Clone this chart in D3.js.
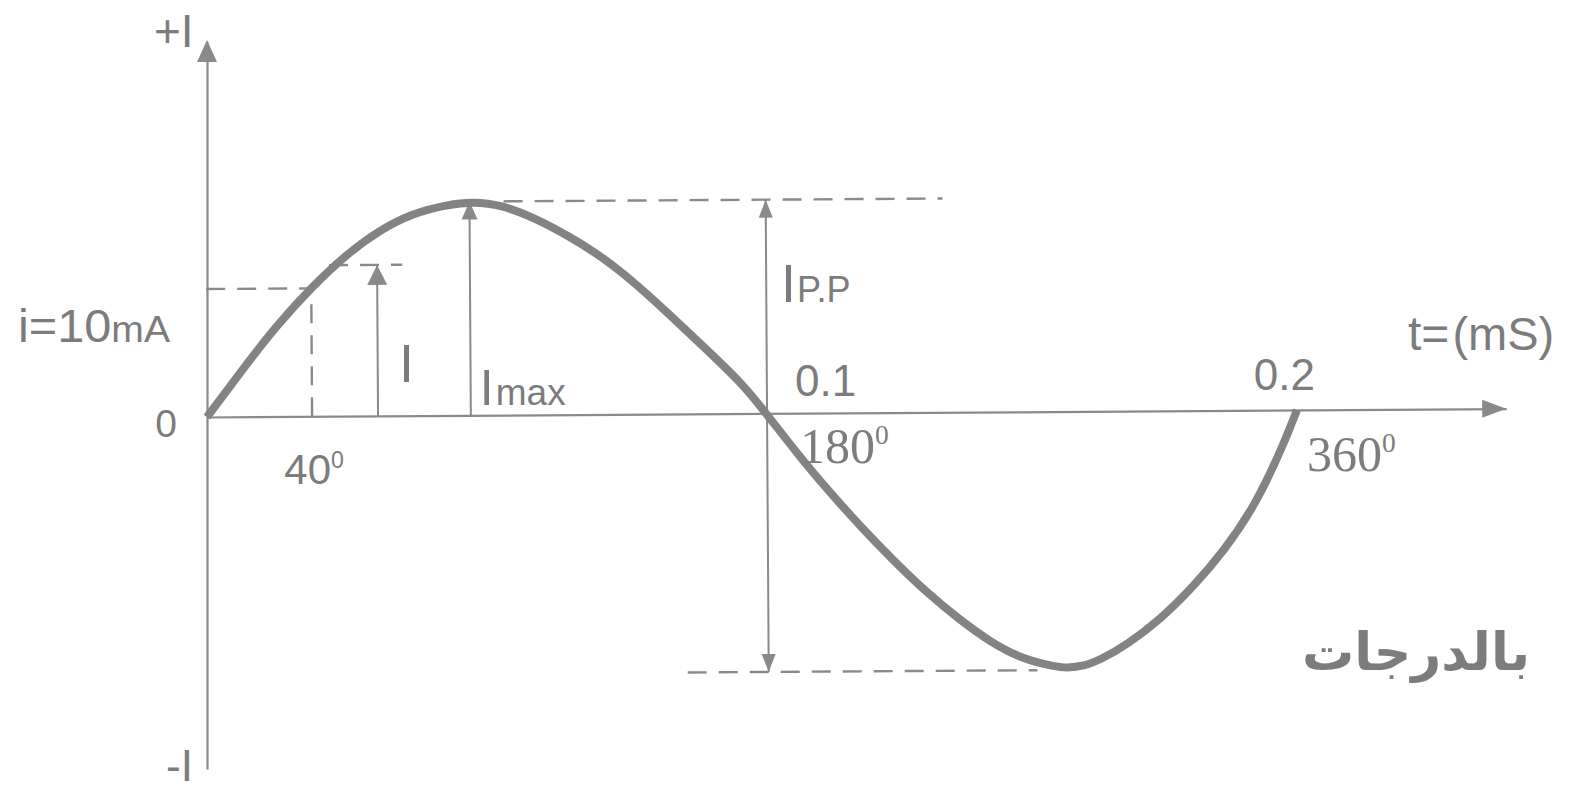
<!DOCTYPE html>
<html>
<head>
<meta charset="utf-8">
<script src="https://cdn.jsdelivr.net/npm/d3@7"></script>
<style>
  body { margin: 0; background: #fff; }
  svg text { font-family: "Liberation Sans", Arial, sans-serif; fill: #7c7c7c; }
</style>
</head>
<body>
<svg id="chart"></svg>
<script>
// sine wave: time in ms, current in mA
const timeMs = [0, 0.0068, 0.0127, 0.0188, 0.0250, 0.0310, 0.0370, 0.0430, 0.0479,
    0.0530, 0.0590, 0.0650, 0.0710, 0.0770, 0.0830, 0.0890, 0.0950, 0.1000,
    0.1060, 0.1120, 0.1180, 0.1240, 0.1300, 0.1360, 0.1420, 0.1480, 0.1535, 0.1565, 0.1595,
    0.1630, 0.1680, 0.1740, 0.1800, 0.1860, 0.1920, 0.1970, 0.2000];
const currentMA = [0, 3.9, 7.1, 10.0, 12.5, 14.4, 15.7, 16.4, 16.6,
    16.3, 15.3, 13.9, 12.2, 10.1, 7.7, 5.2, 2.6, 0,
    -3.2, -6.2, -9.0, -11.6, -14.0, -16.1, -17.9, -19.2, -19.85, -20.0, -19.85,
    -19.3, -18.1, -16.2, -13.8, -10.9, -7.2, -3.0, 0];

const timeTicks = [0.1, 0.2];
const timeLabels = ['0.1', '0.2'];
const degreeTicks = [0.0188, 0.1, 0.2];
const degreeLabels = ['40', '180', '360'];

// reference values marked on the drawing (mA / ms)
const iSample = 10, tSample = 0.0188;
const iInstant = 11.8, tInstant = 0.0306;
const iMax = 16.7, tMax = 0.0472;
const iMin = -20.2, tPP = 0.1002;
const yTop = 29.3, yBottom = -27.5, tEnd = 0.2394;

const W = 1583, H = 796;
const grey = '#8a8a8a';

const svg = d3.select('#chart').attr('width', W).attr('height', H);

const x = d3.scaleLinear().domain([0, 0.1, 0.2]).range([207, 766, 1297]);
const y = d3.scaleLinear().domain([yBottom, yTop]).range([769, 42]);

function arrowHead(g, px, py, dir, len, wid) {
    // dir: 'up' | 'down' | 'right'
    let pts;
    if (dir === 'up') pts = [[px, py], [px - wid / 2, py + len], [px + wid / 2, py + len]];
    else if (dir === 'down') pts = [[px, py], [px - wid / 2, py - len], [px + wid / 2, py - len]];
    else pts = [[px, py], [px - len, py - wid / 2], [px - len, py + wid / 2]];
    g.append('path')
        .attr('d', d3.line()(pts) + 'Z')
        .attr('fill', grey)
        .attr('stroke', 'none');
}

// y axis (vertical, not tilted)
const yAxisG = svg.append('g')
    .attr('transform', `translate(${x(0)},0)`)
    .call(d3.axisLeft(y).tickValues([]).tickSizeOuter(0));
yAxisG.select('.domain').attr('stroke', grey).attr('stroke-width', 2.2);
arrowHead(svg, x(0), y(yTop) - 2, 'up', 22, 20);

// the rest of the drawing is very slightly tilted in the scan
const plot = svg.append('g')
    .attr('transform', `rotate(-0.37, ${x(0)}, ${y(0)})`);

const xAxisScale = d3.scaleLinear().domain([0, tEnd]).range([x(0), x(tEnd)]);
const xAxisG = plot.append('g')
    .attr('transform', `translate(0,${y(0)})`)
    .call(d3.axisBottom(xAxisScale).tickValues([]).tickSizeOuter(0));
xAxisG.select('.domain').attr('stroke', grey).attr('stroke-width', 2.2);
arrowHead(plot, x(tEnd), y(0), 'right', 24, 18);

// dashed guides
const dashed = [
    [[0, iSample], [tSample, iSample]],
    [[tSample, 0], [tSample, iSample]],
    [[0.0220, iInstant], [0.0351, iInstant]],
    [[0.0533, iMax], [0.1335, iMax]],
    [[0.0857, iMin], [0.1508, iMin]]
];
plot.selectAll('.guide')
    .data(dashed)
    .enter()
    .append('line')
    .attr('class', 'guide')
    .attr('x1', d => x(d[0][0])).attr('y1', d => y(d[0][1]))
    .attr('x2', d => x(d[1][0])).attr('y2', d => y(d[1][1]))
    .attr('stroke', grey)
    .attr('stroke-width', 2.4)
    .attr('stroke-dasharray', '19,12');

// arrows I, Imax, Ipp
const arrows = [
    {t: tInstant, from: 0, to: iInstant, head: 20, wid: 20},
    {t: tMax, from: 0, to: iMax, head: 18, wid: 16},
    {t: tPP, from: iMin, to: iMax, head: 18, wid: 14, both: true}
];
arrows.forEach(a => {
    plot.append('line')
        .attr('x1', x(a.t)).attr('x2', x(a.t))
        .attr('y1', y(a.from)).attr('y2', y(a.to))
        .attr('stroke', grey).attr('stroke-width', 2);
    arrowHead(plot, x(a.t), y(a.to), 'up', a.head, a.wid);
    if (a.both) arrowHead(plot, x(a.t), y(a.from), 'down', a.head, a.wid);
});

// the waveform
plot.append('path')
    .datum(d3.zip(timeMs, currentMA))
    .attr('d', d3.line().x(d => x(d[0])).y(d => y(d[1])).curve(d3.curveNatural))
    .attr('fill', 'none')
    .attr('stroke', '#838383')
    .attr('stroke-width', 8)
    .attr('stroke-linecap', 'butt');

// labels
const label = (px, py, size, anchor) => svg.append('text')
    .attr('x', px).attr('y', py)
    .attr('font-size', size)
    .attr('text-anchor', anchor || 'start');

label(154, 47, 46).text('+I');
label(166, 781, 44).text('-I');
label(x(0) - 30, y(0) + 20, 39, 'end').text('0');

const iLab = label(18, 342, 46).attr('textLength', 152).attr('lengthAdjust', 'spacingAndGlyphs');
iLab.append('tspan').text('i=10');
iLab.append('tspan').attr('font-size', 37).text('mA');

label(x(tInstant) + 21, 382, 54).text('I');

const maxLab = label(x(tMax) + 9, 405, 50);
maxLab.append('tspan').text('I');
maxLab.append('tspan').attr('font-size', 37).attr('dx', 2).text('max');

const ppLab = label(x(tPP) + 14, 302, 54);
ppLab.append('tspan').text('I');
ppLab.append('tspan').attr('font-size', 36).attr('dx', 1).text('P.P');

// time labels above the axis
label(x(timeTicks[0]) + 29, 396, 44).text(timeLabels[0]);
label(x(timeTicks[1]) + 18, 390, 44, 'end').text(timeLabels[1]);

// degree labels below the axis
const degPos = [
    {dx: 2, y: 484, anchor: 'middle', font: '"Liberation Sans", Arial, sans-serif', size: 42},
    {dx: 34, y: 463, anchor: 'start', font: '"Liberation Serif", "Times New Roman", serif', size: 50},
    {dx: 10, y: 471, anchor: 'start', font: '"Liberation Serif", "Times New Roman", serif', size: 50}
];
degreeTicks.forEach((t, i) => {
    const p = degPos[i];
    const tx = label(x(t) + p.dx, p.y, p.size, p.anchor).style('font-family', p.font);
    tx.append('tspan').text(degreeLabels[i]);
    tx.append('tspan').attr('font-size', p.size * 0.55).attr('dy', -p.size * 0.38).text('0');
});

const tLab = label(1408, 350, 48);
tLab.append('tspan').text('t=');
tLab.append('tspan').attr('font-size', 47).attr('dx', 3).text('(mS)');

svg.append('text')
    .attr('x', 1530).attr('y', 670)
    .attr('text-anchor', 'end')
    .attr('font-size', 52)
    .attr('font-weight', 'bold')
    .attr('textLength', 228)
    .attr('lengthAdjust', 'spacingAndGlyphs')
    .style('font-family', '"DejaVu Sans", sans-serif')
    .attr('fill', '#858585')
    .text('بالدرجات');
</script>
</body>
</html>
